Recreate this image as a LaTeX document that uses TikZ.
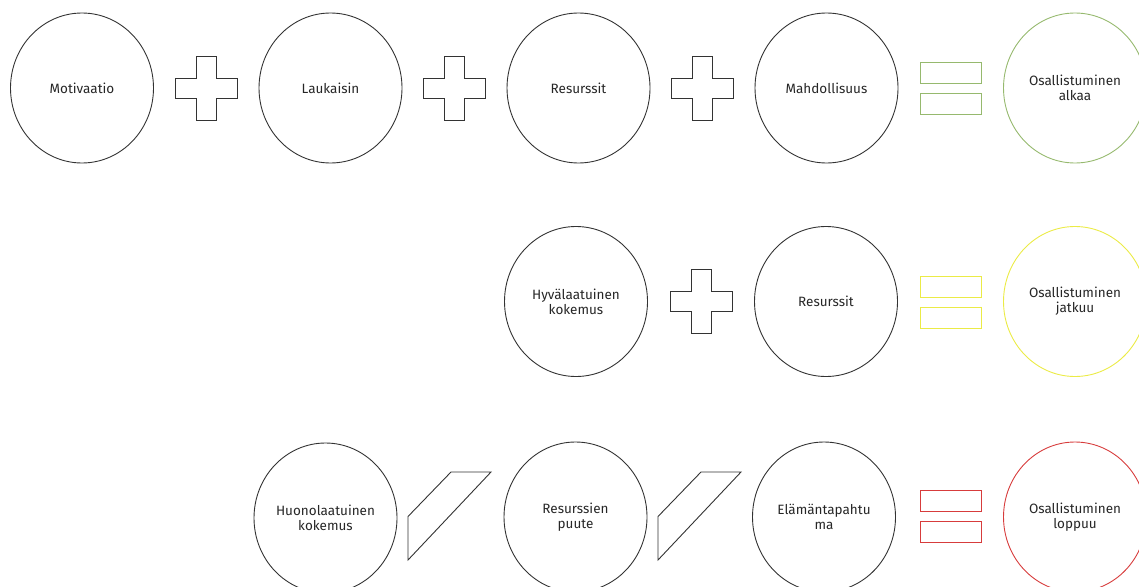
\documentclass[tikz,border=0pt]{standalone}
\usepackage{fontspec}
\setmainfont{Fira Sans}
\usetikzlibrary{positioning, shapes.geometric}
\definecolor{startgreen}{RGB}{150,185,110}
\definecolor{goyellow}{RGB}{235,235,70}
\definecolor{stopred}{RGB}{215,60,60}

\begin{document}
\begin{tikzpicture}[
		x=1pt, y=-1pt,
		term/.style={draw=black!80, line width=0.9pt, ellipse, minimum width=143pt, minimum height=150pt, inner sep=0pt, align=center, font=\fontsize{13.5}{15}\selectfont, text=black!85},
		op/.style={draw=black!80, line width=0.9pt, line join=miter},
		bar/.style={draw, line width=1pt, rectangle, minimum width=61pt, minimum height=21pt, inner sep=0pt},
	]
	\useasboundingbox (0,0) rectangle (1139,586);

	% alkaa
	\node[term] (motivaatio) at (82, 88) {Motivaatio};
	\node[term] (laukaisin) at (330.5, 88) {Laukaisin};
	\node[term] (resurssit1) at (578.5, 88) {Resurssit};
	\node[term] (mahdollisuus) at (826.5, 88) {Mahdollisuus};
	\node[term, draw=startgreen] (alkaa) at (1075, 88) {Osallistuminen\\alkaa};

	% jatkuu
	\node[term] (hyva) at (576, 301.5) {Hyvälaatuinen\\kokemus};
	\node[term] (resurssit2) at (826, 301.5) {Resurssit};
	\node[term, draw=goyellow] (jatkuu) at (1075, 301.5) {Osallistuminen\\jatkuu};

	% loppuu
	\node[term] (huono) at (325.5, 518) {Huonolaatuinen\\kokemus};
	\node[term] (puute) at (575.5, 517) {Resurssien\\puute};
	\node[term] (elama) at (824, 517) {Elämäntapahtu\\ma};
	\node[term, draw=stopred] (loppuu) at (1075, 517) {Osallistuminen\\loppuu};

	\foreach \x/\y in {206/88, 454/88, 702/88, 701.5/301.5}
		\draw[op, shift={(\x,\y)}] (-31,-10) -- (-10,-10) -- (-10,-32) -- (10,-32) -- (10,-10) -- (31,-10)
			-- (31,10) -- (10,10) -- (10,32) -- (-10,32) -- (-10,10) -- (-31,10) -- cycle;

	\foreach \x in {408, 658}
		\draw[op, shift={(\x,0)}] (0,516.5) -- (43,472) -- (83,472) -- (0,560) -- cycle;

	\foreach \y/\c/\n in {88/startgreen/a, 302/goyellow/b, 516.5/stopred/c} {
		\node[bar, draw=\c] (eq\n1) at (950.5, \y-15.5) {};
		\node[bar, draw=\c] (eq\n2) at (950.5, \y+15.5) {};
	}
\end{tikzpicture}
\end{document}
